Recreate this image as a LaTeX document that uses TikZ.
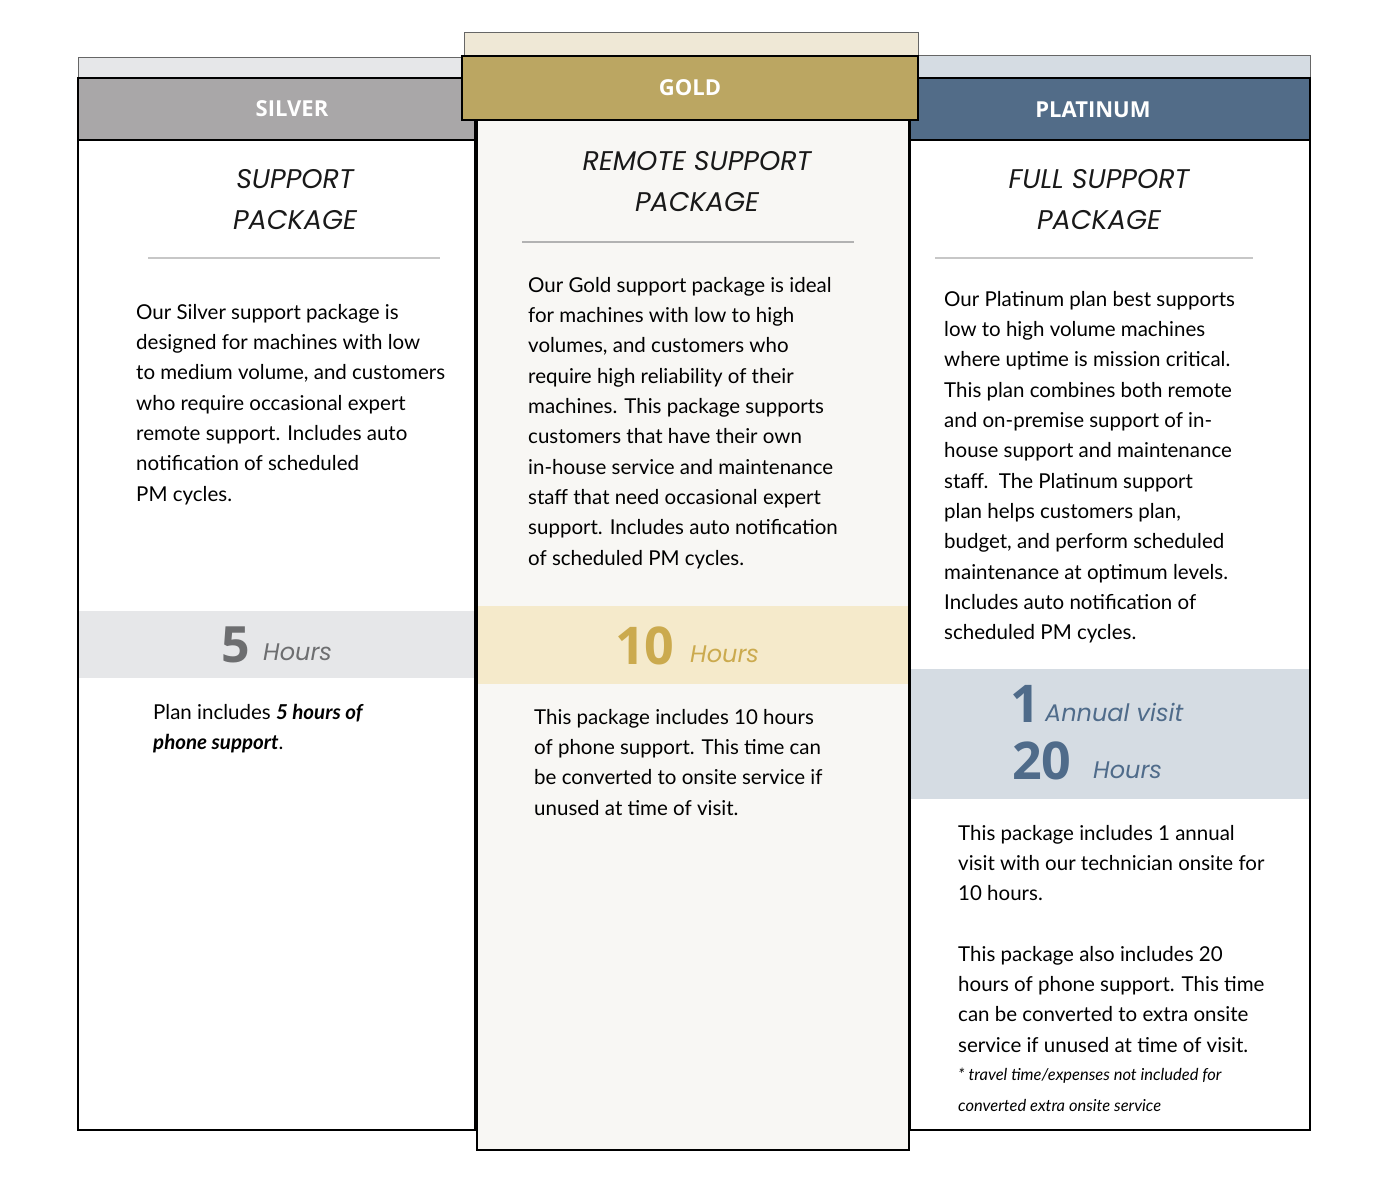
\documentclass[tikz,border=0pt]{standalone}
\usepackage{fontspec}
\setmainfont{Lato}
\newfontfamily\hfont{Open Sans}
\newfontfamily\tfont{Poppins}
\begin{document}
\begin{tikzpicture}[x=1pt,y=-1pt,
  body/.style={anchor=north west,align=left,inner sep=0,font=\fontsize{20.5}{30.3}\selectfont,text=black},
  ttl/.style={align=center,inner sep=0,font=\tfont\itshape\fontsize{27}{41}\selectfont,text=black!90},
  hdr/.style={text=white,font=\hfont\bfseries\fontsize{22}{26}\selectfont},
  frame/.style={draw=black,line width=1.6pt},
  rulel/.style={draw=black!22,line width=1.5pt}]
\useasboundingbox (0,0) rectangle (1382,1186);
\definecolor{silv}{HTML}{A9A7A8}\definecolor{silvl}{HTML}{E6E7E9}
\definecolor{gold}{HTML}{BBA662}\definecolor{goldl}{HTML}{EFE8D6}\definecolor{goldb}{HTML}{F5EACB}
\definecolor{goldbody}{HTML}{F8F7F4}
\definecolor{plat}{HTML}{526C88}\definecolor{platl}{HTML}{D5DCE3}
\definecolor{goldn}{HTML}{CBAA4E}\definecolor{silvn}{HTML}{6D6E70}\definecolor{platn}{HTML}{4F6B8A}
% silver
\fill[silvl,draw=black!60] (78,57) rectangle (475,78);
\fill[silv] (78,78) rectangle (475,140);
\draw[frame] (78,78) rectangle (475,1130);
\draw[frame] (78,140) -- (475,140);
\node[hdr] (sh) at (292,109) {SILVER};
\node[ttl] (st) at (295,200) {SUPPORT\\PACKAGE};
\draw[rulel] (148,258) -- (440,258);
\node[body] (sb) at (136,304) {Our Silver support package is\\designed for machines with low\\to medium volume, and customers\\who require occasional expert\\remote support. Includes auto\\notification of scheduled\\PM cycles.};
\fill[silvl] (79,611) rectangle (474,678);
\node[anchor=base west,inner sep=0,text=silvn,font=\hfont\bfseries\fontsize{50}{50}\selectfont] (s5) at (221,662) {5};
\node[anchor=base west,inner sep=0,text=silvn,font=\tfont\itshape\fontsize{24}{24}\selectfont] (s5h) at (263,660) {Hours};
\node[body] (sp) at (153,704) {Plan includes \textbf{\textit{5 hours of}}\\\textbf{\textit{phone support}}.};
% platinum
\fill[platl,draw=black!60] (918,55) rectangle (1310,78);
\fill[plat] (910,78) rectangle (1310,140);
\draw[frame] (910,78) rectangle (1310,1130);
\draw[frame] (910,140) -- (1310,140);
\node[hdr] (ph) at (1093,110) {PLATINUM};
\node[ttl] (pt) at (1099,200) {FULL SUPPORT\\PACKAGE};
\draw[rulel] (935,258) -- (1253,258);
\node[body] (pb) at (944,291) {Our Platinum plan best supports\\low to high volume machines\\where uptime is mission critical.\\This plan combines both remote\\and on-premise support of in-\\house support and maintenance\\staff.\ \ The Platinum support\\plan helps customers plan,\\budget, and perform scheduled\\maintenance at optimum levels.\\Includes auto notification of\\scheduled PM cycles.};
\fill[platl] (911,669) rectangle (1309,799);
\node[anchor=base west,inner sep=0,text=platn,font=\hfont\bfseries\fontsize{52}{52}\selectfont] (p1) at (1010,722) {1};
\node[anchor=base west,inner sep=0,text=platn,font=\tfont\itshape\fontsize{24}{24}\selectfont] (p1h) at (1045,721) {Annual visit};
\node[anchor=base west,inner sep=0,text=platn,font=\hfont\bfseries\fontsize{52}{52}\selectfont] (p20) at (1012,779) {20};
\node[anchor=base west,inner sep=0,text=platn,font=\tfont\itshape\fontsize{24}{24}\selectfont] (p20h) at (1093,778) {Hours};
\node[body] (pp) at (958,825) {This package includes 1 annual\\visit with our technician onsite for\\10 hours.\\[30pt]This package also includes 20\\hours of phone support. This time\\can be converted to extra onsite\\service if unused at time of visit.};
\node[anchor=north west,align=left,inner sep=0,font=\itshape\fontsize{16.5}{30.5}\selectfont,text=black] (pn) at (958,1068) {* travel time/expenses not included for\\converted extra onsite service};
% gold
\fill[goldl,draw=black!60] (464,32) rectangle (918,56);
\fill[goldbody] (477,120) rectangle (909,1150);
\draw[frame] (477,120) -- (477,1150) -- (909,1150) -- (909,120);
\fill[gold,draw=black,line width=1.6pt] (462,56) rectangle (918,120);
\node[hdr] (gh) at (690,88) {GOLD};
\node[ttl] (gt) at (697,182) {REMOTE SUPPORT\\PACKAGE};
\draw[rulel,draw=black!30] (522,242) -- (854,242);
\node[body] (gb) at (528,277) {Our Gold support package is ideal\\for machines with low to high\\volumes, and customers who\\require high reliability of their\\machines. This package supports\\customers that have their own\\in-house service and maintenance\\staff that need occasional expert\\support. Includes auto notification\\of scheduled PM cycles.};
\fill[goldb] (478,606) rectangle (908,684);
\node[anchor=base west,inner sep=0,text=goldn,font=\hfont\bfseries\fontsize{52}{52}\selectfont] (g10) at (615,664) {10};
\node[anchor=base west,inner sep=0,text=goldn,font=\tfont\itshape\fontsize{24}{24}\selectfont] (g10h) at (690,662) {Hours};
\node[body] (gp) at (534,709) {This package includes 10 hours\\of phone support. This time can\\be converted to onsite service if\\unused at time of visit.};
\end{tikzpicture}
\end{document}
